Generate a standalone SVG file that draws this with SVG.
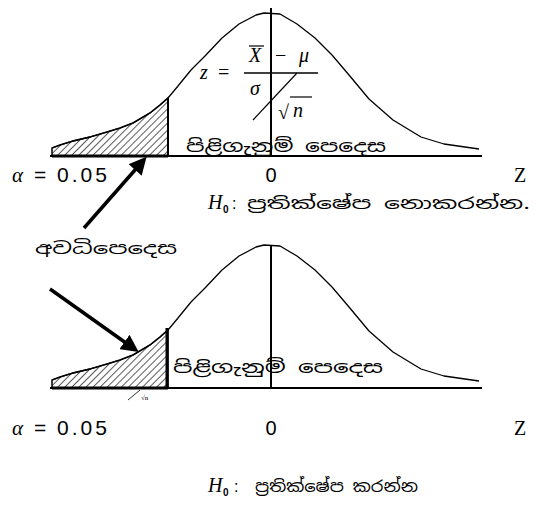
<svg xmlns="http://www.w3.org/2000/svg" width="536" height="513" viewBox="0 0 536 513">
<style>
.ax{stroke:#000;stroke-width:2;fill:none}
.cv{stroke:#000;stroke-width:1.3;fill:none;stroke-linejoin:round}
.si{font-family:"Noto Sans Sinhala","Noto Sans",sans-serif;fill:#000}
.it{font-family:"Liberation Serif",serif;font-style:italic;fill:#000}
.rm{font-family:"Liberation Serif",serif;font-style:normal;fill:#000}
.sf{font-family:"Liberation Sans",sans-serif;fill:#000}
.arr{stroke:#000;stroke-width:3.5;fill:none;marker-end:url(#ah)}
</style>
<defs>
<pattern id="hatch" width="5" height="5" patternUnits="userSpaceOnUse" patternTransform="rotate(45)">
<line x1="0" y1="0" x2="0" y2="5" stroke="#000" stroke-width="1.3"/>
</pattern>
<marker id="ah" markerWidth="5" markerHeight="5" refX="3" refY="2.5" orient="auto" markerUnits="strokeWidth">
<path d="M0,0 L5,2.5 L0,5 z" fill="#000"/>
</marker>
<path id="curve" d="M52,148 L60,145 L73,141 L90,137 L107,132 L120,128 L133,123 L150,113 L160,105 L168,98 L178,86 L191,70 L205,56 L222,38 L239,24 L256,15 L264,13 L280,14 L297,24 L315,38 L332,55 L349,75 L369,99 L393,120 L421,137 L444,144 L479,149"/>
<path id="tail" d="M52,156 L52,148 L60,145 L73,141 L90,137 L107,132 L120,128 L133,123 L150,113 L160,105 L168,98 L168,156 z"/>
</defs>

<g id="chart-top">
<use href="#tail" fill="url(#hatch)" stroke="#000" stroke-width="1.5"/>
<use href="#curve" class="cv"/>
<line class="ax" x1="50" y1="156" x2="482" y2="156"/>
<line class="ax" x1="271" y1="8" x2="271" y2="156"/>
<line class="ax" x1="168" y1="98" x2="168" y2="156"/>
<line x1="52" y1="156" x2="168" y2="156" stroke="#000" stroke-width="3"/>
</g>

<g id="formula">
<text class="it" x="200" y="79" font-size="20">z</text>
<text class="rm" x="218" y="79" font-size="20">=</text>
<text class="it" x="249" y="62" font-size="20">X</text>
<line x1="249" y1="46" x2="264" y2="46" stroke="#000" stroke-width="1.2"/>
<text class="rm" x="275" y="62" font-size="20">−</text>
<text class="it" x="299" y="62" font-size="20">μ</text>
<line x1="244" y1="73" x2="318" y2="73" stroke="#000" stroke-width="1.3"/>
<text class="it" x="250" y="95" font-size="20">σ</text>
<line x1="253" y1="120" x2="297" y2="73" stroke="#000" stroke-width="1.2"/>
<text class="rm" x="278" y="119" font-size="20">√</text>
<line x1="290" y1="97" x2="312" y2="97" stroke="#000" stroke-width="1.2"/>
<text class="it" x="293" y="117" font-size="20">n</text>
</g>

<g id="labels-top">
<text class="si" x="186" y="152" font-size="17" textLength="200" lengthAdjust="spacingAndGlyphs">පිළිගැනුම් පෙදෙස</text>
<text class="it" x="12" y="182" font-size="21">α</text>
<text class="sf" x="34" y="182" font-size="21">=</text>
<text class="sf" x="57" y="182" font-size="21" letter-spacing="3">0.05</text>
<text class="sf" x="271" y="182" font-size="20" text-anchor="middle">0</text>
<text class="rm" x="520" y="182" font-size="20" text-anchor="middle">Z</text>
<text class="it" x="208" y="209" font-size="20">H</text>
<text class="sf" x="223" y="213" font-size="10" font-weight="bold">0</text>
<text class="sf" x="232" y="209" font-size="16">:</text>
<text class="si" x="247" y="209" font-size="16" textLength="283" lengthAdjust="spacingAndGlyphs">ප්‍රතික්ෂේප නොකරන්න.</text>
<text class="si" x="35" y="254" font-size="16" textLength="142" lengthAdjust="spacingAndGlyphs">අවධිපෙදෙස</text>
</g>

<g id="chart-bottom">
<use href="#tail" transform="translate(0,232)" fill="url(#hatch)" stroke="#000" stroke-width="1.5"/>
<use href="#curve" transform="translate(0,232)" class="cv"/>
<line class="ax" x1="50" y1="388" x2="482" y2="388"/>
<line class="ax" x1="271" y1="246" x2="271" y2="388"/>
<line x1="167" y1="328" x2="167" y2="388" stroke="#000" stroke-width="3"/>
<line x1="52" y1="388" x2="168" y2="388" stroke="#000" stroke-width="3"/>
<line x1="128" y1="400" x2="140" y2="390" stroke="#000" stroke-width="0.8"/>
<text class="rm" x="141" y="400" font-size="7">√n</text>
</g>

<g id="labels-bottom">
<text class="si" x="173" y="373" font-size="17" textLength="210" lengthAdjust="spacingAndGlyphs">පිළිගැනුම් පෙදෙස</text>
<text class="it" x="12" y="435" font-size="21">α</text>
<text class="sf" x="34" y="435" font-size="21">=</text>
<text class="sf" x="57" y="435" font-size="21" letter-spacing="3">0.05</text>
<text class="sf" x="271" y="435" font-size="20" text-anchor="middle">0</text>
<text class="rm" x="520" y="435" font-size="20" text-anchor="middle">Z</text>
<text class="it" x="208" y="492" font-size="20">H</text>
<text class="sf" x="223" y="496" font-size="10" font-weight="bold">0</text>
<text class="sf" x="234" y="492" font-size="16">:</text>
<text class="si" x="255" y="492" font-size="16" textLength="163" lengthAdjust="spacingAndGlyphs">ප්‍රතික්ෂේප කරන්න</text>
</g>

<g id="connectors">
<line class="arr" x1="84" y1="228" x2="142" y2="162"/>
<line class="arr" x1="50" y1="289" x2="133" y2="348"/>
</g>
</svg>
